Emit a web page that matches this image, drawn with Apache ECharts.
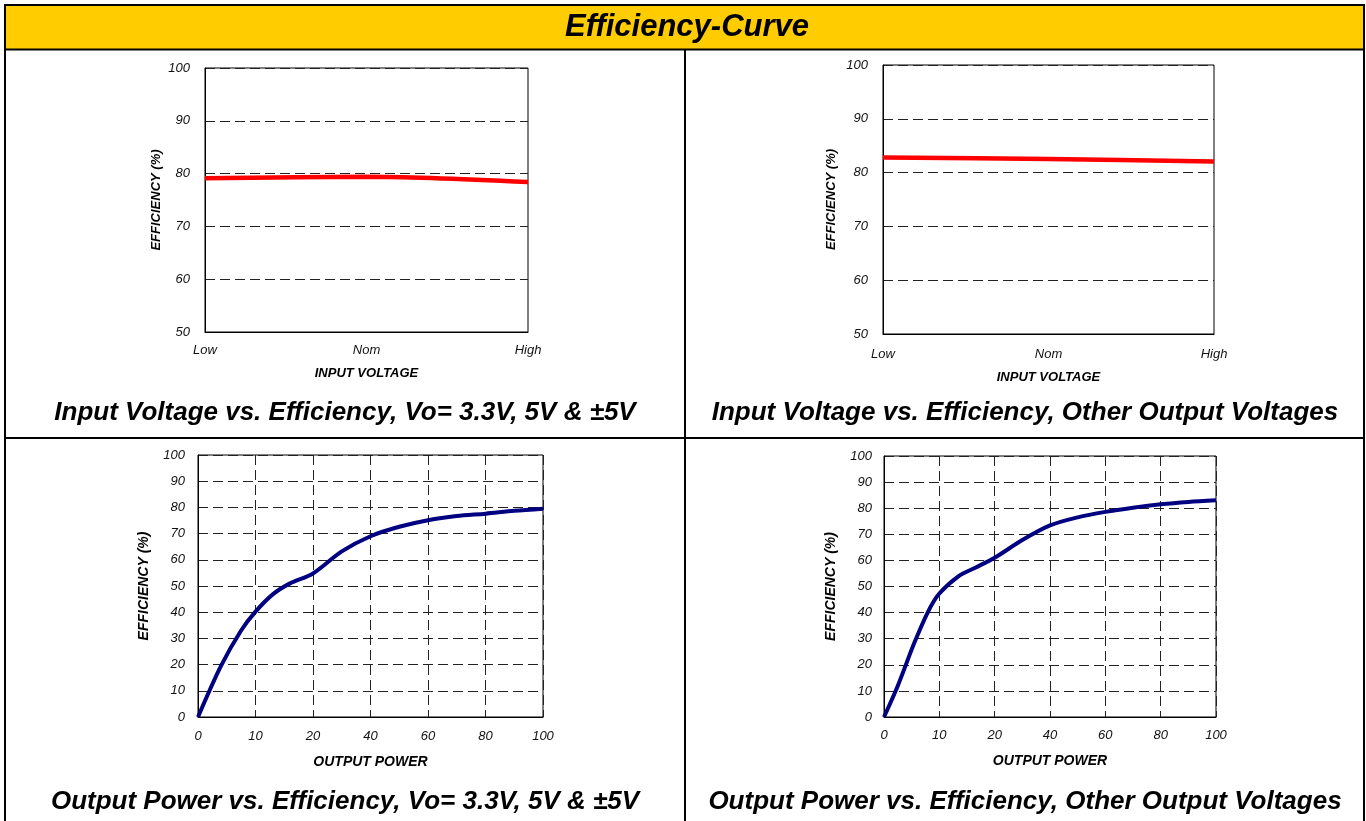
<!DOCTYPE html>
<html>
<head>
<meta charset="UTF-8" />
<title>Efficiency-Curve</title>
<script src="https://cdn.jsdelivr.net/npm/echarts@6/dist/echarts.min.js"></script>
<style>
html, body { margin: 0; padding: 0; background: #fff; }
#chart { width: 1366px; height: 821px; }
</style>
</head>
<body>
<div id="chart"></div>
<script>
// data
var voltageCats = ["Low", "Nom", "High"];
var effVin1 = [79.1, 79.4, 78.4];      // Vo = 3.3V, 5V & ±5V
var effVin2 = [82.8, 82.55, 82.05];    // other output voltages

// output power axis is not linear: ticks are evenly spaced
var powerTicks = [0, 10, 20, 40, 60, 80, 100];

var power1 = [0, 4, 7.5, 10, 13, 16, 20, 30, 40, 50, 60, 70, 80, 90, 100];
var effPow1 = [0, 19.5, 33, 40.2, 46.8, 51, 54.8, 63.2, 69, 72.6, 75.1, 76.7, 77.6, 78.7, 79.5];

var power2 = [0, 2.5, 5.5, 8, 10, 13.5, 16.5, 20, 30, 40, 50, 60, 70, 80, 90, 100];
var effPow2 = [0, 12, 28.5, 40.5, 47.3, 54, 57.2, 61, 67.8, 73.4, 76.5, 78.6, 80.2, 81.5, 82.4, 83];

// map a power value onto the evenly spaced tick positions
function powerPos(p) {
  for (var i = 0; i < powerTicks.length - 1; i++) {
    if (p <= powerTicks[i + 1]) {
      return i + (p - powerTicks[i]) / (powerTicks[i + 1] - powerTicks[i]);
    }
  }
  return powerTicks.length - 1;
}
function pairs(xs, ys) {
  return xs.map(function (x, i) { return [powerPos(x), ys[i]]; });
}

var FONT = "Arial, 'Liberation Sans', Helvetica, sans-serif";
var dashed = { show: true, lineStyle: { color: "#222", type: [10, 5], width: 1 } };
var tickLabel = { color: "#111", fontStyle: "italic", fontSize: 13, fontFamily: FONT };
function nameStyle(size) {
  return { color: "#000", fontStyle: "italic", fontWeight: "bold", fontSize: size, fontFamily: FONT };
}

var grids = [
  { left: 205, top: 68, width: 323, height: 264 },
  { left: 883, top: 65, width: 331, height: 269 },
  { left: 198, top: 455, width: 345, height: 262 },
  { left: 884, top: 456, width: 332, height: 261 }
];
grids.forEach(function (g) {
  g.show = true;
  g.borderColor = "#000";
  g.borderWidth = 1;
  g.backgroundColor = "#fff";
});

function catX(idx, labelMargin, gap) {
  return {
    type: "category", gridIndex: idx, data: voltageCats, boundaryGap: false,
    axisLine: { lineStyle: { color: "#000" } }, axisTick: { show: false },
    axisLabel: Object.assign({ margin: labelMargin }, tickLabel),
    splitLine: { show: false },
    name: "INPUT VOLTAGE", nameLocation: "middle", nameGap: gap, nameTextStyle: nameStyle(13)
  };
}
function powX(idx, labelMargin, gap) {
  return {
    type: "value", gridIndex: idx, min: 0, max: 6, interval: 1,
    axisLine: { lineStyle: { color: "#000" } }, axisTick: { show: false },
    axisLabel: Object.assign({ margin: labelMargin, formatter: function (v) { return powerTicks[v]; } }, tickLabel),
    splitLine: dashed,
    name: "OUTPUT POWER", nameLocation: "middle", nameGap: gap, nameTextStyle: nameStyle(14)
  };
}
function effY(idx, min, labelMargin, gap, nsize) {
  return {
    type: "value", gridIndex: idx, min: min, max: 100, interval: 10,
    axisLine: { show: true, lineStyle: { color: "#000" } }, axisTick: { show: false },
    axisLabel: Object.assign({ margin: labelMargin }, tickLabel),
    splitLine: dashed,
    name: "EFFICIENCY (%)", nameLocation: "middle", nameGap: gap, nameTextStyle: nameStyle(nsize)
  };
}

function headText(txt, x, y, size) {
  return {
    type: "text", x: x, y: y, z: 10,
    style: {
      text: txt, textAlign: "center", textVerticalAlign: "middle",
      fontStyle: "italic", fontWeight: "bold", fontSize: size, fontFamily: FONT, fill: "#000"
    }
  };
}
function line(x1, y1, x2, y2, w) {
  return { type: "line", z: 5, shape: { x1: x1, y1: y1, x2: x2, y2: y2 }, style: { stroke: "#000", lineWidth: w } };
}

var chart = echarts.init(document.getElementById("chart"));
chart.setOption({
  animation: false,
  backgroundColor: "#fff",
  grid: grids,
  xAxis: [catX(0, 12, 35), catX(1, 14, 37), powX(2, 13, 38), powX(3, 12, 37)],
  yAxis: [effY(0, 50, 15, 42, 13), effY(1, 50, 15, 45, 13), effY(2, 0, 13, 47, 14), effY(3, 0, 12, 46, 14)],
  series: [
    { type: "line", xAxisIndex: 0, yAxisIndex: 0, data: effVin1, smooth: 0.3, showSymbol: false,
      lineStyle: { color: "#ff0000", width: 4.5 } },
    { type: "line", xAxisIndex: 1, yAxisIndex: 1, data: effVin2, smooth: 0.3, showSymbol: false,
      lineStyle: { color: "#ff0000", width: 4.5 } },
    { type: "line", xAxisIndex: 2, yAxisIndex: 2, data: pairs(power1, effPow1), smooth: 0.3, showSymbol: false,
      lineStyle: { color: "#000080", width: 4 } },
    { type: "line", xAxisIndex: 3, yAxisIndex: 3, data: pairs(power2, effPow2), smooth: 0.3, showSymbol: false,
      lineStyle: { color: "#000080", width: 4 } }
  ],
  graphic: [
    { type: "rect", z: 1, shape: { x: 5, y: 5, width: 1359, height: 44 }, style: { fill: "#ffcc00" } },
    line(4.5, 5, 1364, 5, 2),
    line(5, 4, 5, 821, 2),
    line(1364, 4, 1364, 821, 2),
    line(4, 49.5, 1365, 49.5, 2),
    line(4, 438, 1365, 438, 2),
    line(685, 49, 685, 821, 2),
    headText("Efficiency-Curve", 687, 27, 31),
    headText("Input Voltage vs. Efficiency, Vo= 3.3V, 5V & \u00b15V", 345, 413, 26),
    headText("Input Voltage vs. Efficiency, Other Output Voltages", 1025, 413, 26),
    headText("Output Power vs. Efficiency, Vo= 3.3V, 5V & \u00b15V", 345, 802, 26),
    headText("Output Power vs. Efficiency, Other Output Voltages", 1025, 802, 26)
  ]
});
</script>
</body>
</html>
